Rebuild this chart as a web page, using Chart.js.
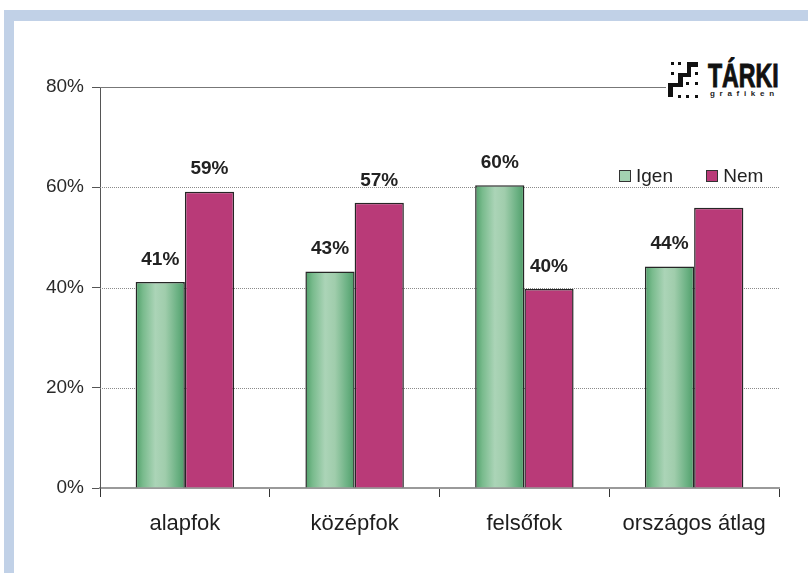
<!DOCTYPE html>
<html lang="hu">
<head>
    <meta charset="UTF-8">
    <title>Igen / Nem iskolai végzettség szerint</title>
    <style>
        body {
            margin: 0;
            background: #fff;
            font-family: 'Liberation Sans', Arial, sans-serif;
        }

        .page {
            position: relative;
            width: 808px;
            height: 573px;
            overflow: hidden;
        }

        .frame {
            position: absolute;
            left: 4px;
            top: 10px;
            right: 0;
            bottom: 0;
            border-top: 11px solid #c1d1e7;
            border-left: 10px solid #c1d1e7;
        }

        .chart-box {
            position: absolute;
            left: 0;
            top: 0;
            width: 808px;
            height: 573px;
        }

        .legend {
            position: absolute;
            top: 164px;
            left: 619px;
            font-size: 19px;
            color: #222;
            white-space: nowrap;
        }

        .legend span {
            display: inline-block;
            vertical-align: middle;
        }

        .legend .box {
            width: 10px;
            height: 10px;
            border: 1px solid #333;
            margin-right: 5px;
        }

        .logo {
            position: absolute;
            left: 666px;
            top: 56px;
            width: 130px;
            height: 44px;
            background: #fff;
        }

        .logo .px {
            position: absolute;
            background: #111;
        }

        .logo .name {
            position: absolute;
            left: 42px;
            top: 3px;
            font-size: 33px;
            font-weight: bold;
            color: #111;
            -webkit-text-stroke: 1px #111;
            transform: scaleX(0.7);
            transform-origin: 0 0;
            line-height: 33px;
        }

        .logo .sub {
            position: absolute;
            left: 44px;
            top: 34px;
            font-size: 8px;
            line-height: 8px;
            font-weight: bold;
            letter-spacing: 4.7px;
            color: #222;
        }
    </style>
    <script src="https://cdn.jsdelivr.net/npm/chart.js"></script>
</head>

<body>
    <div class="page">
        <div class="frame"></div>
        <div class="chart-box"><canvas id="chart" width="808" height="573"></canvas></div>

        <div class="legend">
            <span class="box" style="background:#a3d2b1"></span><span>Igen</span>
            <span class="box" style="background:#b93a78; margin-left:28px"></span><span>Nem</span>
        </div>

        <div class="logo" id="logo">
            <div class="name">TÁRKI</div>
            <div class="sub">grafiken</div>
        </div>
    </div>

    <script>
        // adatok
        const categories = ['alapfok', 'középfok', 'felsőfok', 'országos átlag'];
        const igenValues = [41.1, 43.2, 60.4, 44.2];
        const nemValues = [59.1, 56.9, 39.7, 55.9];
        const igenLabels = ['41%', '43%', '60%', '44%'];
        const nemLabels = ['59%', '57%', '40%', ''];
        const yMax = 80;
        const yStep = 20;
        const dottedLines = [20, 40, 60];

        // logó lépcső (bal, fent, szél, mag)
        const stair = [
            [21, 6, 11, 5], [21, 6, 4, 15], [12, 17, 13, 4], [12, 17, 5, 14], [2, 27, 15, 4], [2, 27, 5, 14],
            [5, 6, 3, 3], [12, 6, 3, 3], [5, 16, 3, 3], [29, 16, 3, 3],
            [20, 26, 3, 3], [29, 26, 3, 3],
            [12, 39, 3, 3], [20, 39, 3, 3], [29, 39, 3, 3]
        ];
        const logo = document.getElementById('logo');
        stair.forEach(([l, t, w, h]) => {
            const d = document.createElement('div');
            d.className = 'px';
            d.style.left = l + 'px';
            d.style.top = t + 'px';
            d.style.width = w + 'px';
            d.style.height = h + 'px';
            logo.appendChild(d);
        });

        const FONT = "'Liberation Sans', Arial, sans-serif";

        function greenFill(ctx) {
            const chart = ctx.chart;
            const xs = chart.scales.x;
            if (!chart.chartArea || !xs) return '#7fbf93';
            const catW = xs.width / categories.length;
            const barW = catW * 0.58 / 2;
            const cx = xs.getPixelForValue(ctx.dataIndex);
            const g = chart.ctx.createLinearGradient(cx - barW, 0, cx, 0);
            g.addColorStop(0, '#4f9f69');
            g.addColorStop(0.15, '#79bb8d');
            g.addColorStop(0.4, '#abd4b7');
            g.addColorStop(0.6, '#a0cdac');
            g.addColorStop(0.85, '#6bb183');
            g.addColorStop(1, '#4e9c68');
            return g;
        }

        // rácsvonalak
        const gridPlugin = {
            id: 'gridLines',
            beforeDatasetsDraw(chart) {
                const { ctx, chartArea, scales: { y } } = chart;
                ctx.save();
                ctx.strokeStyle = '#8a8a8a';
                ctx.lineWidth = 1;
                ctx.setLineDash([1, 1]);
                dottedLines.forEach(v => {
                    const py = Math.round(y.getPixelForValue(v)) + 0.5;
                    ctx.beginPath();
                    ctx.moveTo(chartArea.left, py);
                    ctx.lineTo(chartArea.right, py);
                    ctx.stroke();
                });
                ctx.setLineDash([]);
                ctx.strokeStyle = '#777';
                const top = Math.round(y.getPixelForValue(yMax)) + 0.5;
                ctx.beginPath();
                ctx.moveTo(chartArea.left, top);
                ctx.lineTo(668, top);
                ctx.stroke();
                ctx.restore();
            }
        };

        // értékcímkék
        const labelPlugin = {
            id: 'valueLabels',
            afterDatasetsDraw(chart) {
                const { ctx } = chart;
                const texts = [igenLabels, nemLabels];
                ctx.save();
                ctx.font = 'bold 19px ' + FONT;
                ctx.fillStyle = '#222';
                ctx.textAlign = 'center';
                ctx.textBaseline = 'bottom';
                texts.forEach((list, di) => {
                    chart.getDatasetMeta(di).data.forEach((el, i) => {
                        if (list[i]) ctx.fillText(list[i], el.x, el.y - 13);
                    });
                });
                ctx.restore();
            }
        };

        new Chart(document.getElementById('chart'), {
            type: 'bar',
            data: {
                labels: categories,
                datasets: [
                    {
                        label: 'Igen',
                        data: igenValues,
                        backgroundColor: greenFill,
                        borderColor: '#262626',
                        borderWidth: 1.5,
                        categoryPercentage: 0.58,
                        barPercentage: 1
                    },
                    {
                        label: 'Nem',
                        data: nemValues,
                        backgroundColor: '#b93a78',
                        borderColor: '#262626',
                        borderWidth: 1.5,
                        categoryPercentage: 0.58,
                        barPercentage: 1
                    }
                ]
            },
            options: {
                responsive: false,
                animation: false,
                devicePixelRatio: 1,
                layout: { padding: { top: 87, right: 29, bottom: 0, left: 0 } },
                plugins: {
                    legend: { display: false },
                    tooltip: { enabled: false }
                },
                scales: {
                    x: {
                        afterFit(scale) { scale.height = 85; },
                        grid: {
                            offset: true,
                            drawOnChartArea: false,
                            drawTicks: true,
                            tickLength: 9,
                            tickColor: '#333'
                        },
                        border: { color: '#9a9a9a', width: 2 },
                        ticks: {
                            color: '#1e1e1e',
                            padding: 14,
                            font: { family: FONT, size: 22 }
                        }
                    },
                    y: {
                        min: 0,
                        max: yMax,
                        afterFit(scale) { scale.width = 100; },
                        grid: {
                            drawOnChartArea: false,
                            tickLength: 8,
                            tickColor: '#555'
                        },
                        border: { color: '#555', width: 1 },
                        ticks: {
                            stepSize: yStep,
                            color: '#2a2a2a',
                            padding: 8,
                            font: { family: FONT, size: 19 },
                            callback: v => v + '%'
                        }
                    }
                }
            },
            plugins: [gridPlugin, labelPlugin]
        });
    </script>
</body>
</html>
